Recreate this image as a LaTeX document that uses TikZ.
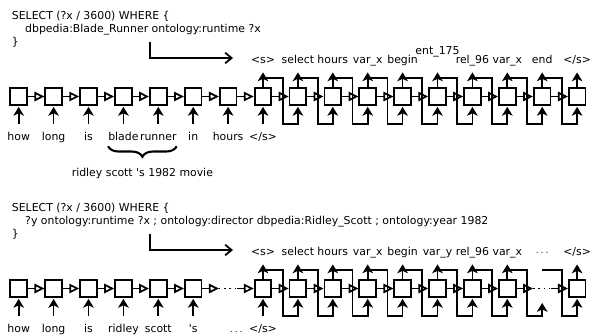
\documentclass[tikz,border=0pt]{standalone}
\usepackage{fontspec}
\setmainfont{DejaVu Sans}
\usetikzlibrary{arrows.meta,positioning,decorations.pathreplacing}

\tikzstyle{cell} = [
  rectangle, draw, line width=1.5pt, minimum size=0.5cm, inner sep=0pt
]
\tikzstyle{link} = [
  line width=1.5pt, -{Triangle[open, length=8.5pt, width=8pt]}
]
\tikzstyle{feed} = [
  line width=1.5pt, shorten >=1pt, -{Stealth[length=7.5pt, width=9pt, inset=2pt]}
]
\tikzstyle{dots} = [line width=1.3pt, dash pattern=on 1.3pt off 3.2pt]
\tikzstyle{pointer} = [line width=1.5pt, -{Straight Barb[length=5.5pt, width=9pt]}]
\tikzstyle{word} = [
  inner xsep=0pt, inner ysep=7pt, text height=7pt, text depth=2pt
]
\tikzstyle{token} = [
  inner xsep=0pt, inner ysep=4pt, text height=7pt, text depth=2pt
]
\tikzstyle{query} = [anchor=base west, inner sep=0pt]

\begin{document}
\begin{tikzpicture}[x=0.03cm, y=-0.03cm, font=\fontsize{9.3}{11}\selectfont]
  \useasboundingbox (0,0) rectangle (590,335);

  % first question
  \node[query] (qa1) at (11.7,19.5) {SELECT (?x / 3600) WHERE \{};
  \node[query] (qa2) at (25,32.7) {dbpedia:Blade\_Runner ontology:runtime ?x};
  \node[query] (qa3) at (11.7,45.9) {\}};
  \coordinate (qa) at (150,42);
  \coordinate (qa') at (233,58);
  \draw[pointer] (qa) |- (qa');

  \foreach \i in {0,...,16}
    \node[cell] (t\i) at ({18.7+34.9*\i},96.5) {};
  \foreach \i [count=\j] in {0,...,15}
    \draw[link] (t\i) -- (t\j);

  \foreach \w [count=\i from 0] in {how,long,is,blade,runner,in,hours,</s>}
    \node[word, below=15.4pt of t\i] (w\i) {\w};
  \foreach \i in {0,...,7}
    \draw[feed] (w\i) -- (t\i);

  \foreach \w [count=\i from 7] in {<s>,select,hours,var\_x,begin,{\raisebox{7.7pt}{ent\_175}},rel\_96,var\_x,end,</s>}
    \node[token, above=13.7pt of t\i] (o\i) {\w};
  \foreach \i in {7,...,16}
    \draw[feed] (t\i) -- (o\i);
  \foreach \i [count=\j from 8] in {7,...,15}
    \draw[feed] ([yshift=7.7pt]t\i.north) -| ([xshift=9pt, yshift=-15.4pt]t\i.south east) -| (t\j.south);

  \draw[decorate, decoration={brace, mirror, amplitude=9pt}, line width=1.8pt]
    ([yshift=-5pt]w3.base west) -- ([yshift=-5pt]w4.base east)
    node[midway, anchor=base, yshift=-25.6pt] (movie) {ridley scott \textquotesingle s 1982 movie};

  % second question
  \node[query] (qb1) at (11.7,211.5) {SELECT (?x / 3600) WHERE \{};
  \node[query] (qb2) at (25,224.7) {?y ontology:runtime ?x ; ontology:director dbpedia:Ridley\_Scott ; ontology:year 1982};
  \node[query] (qb3) at (11.7,237.9) {\}};
  \coordinate (qb) at (150,234);
  \coordinate (qb') at (233,250);
  \draw[pointer] (qb) |- (qb');

  \foreach \i in {0,...,5,7,8,...,14,16}
    \node[cell] (b\i) at ({18.7+34.9*\i},288.5) {};
  \node[cell, draw=none] (b6) at (228.1,288.5) {};
  \node[cell, draw=none] (b15) at (542.2,288.5) {};
  \foreach \i [evaluate=\i as \j using int(\i+1)] in {0,...,4,7,8,...,13}
    \draw[link] (b\i) -- (b\j);
  \draw[link] (b5) -- (b6.west);
  \draw[dots] (b6.west) -- (b6.east);
  \draw[link] (b6.east) -- (b7);
  \draw[link] (b14) -- (b15.west);
  \draw[dots] (b15.west) -- (b15.east);
  \draw[link] (b15.east) -- (b16);

  \foreach \w [count=\i from 0] in {how,long,is,ridley,scott,\textquotesingle s}
    \node[word, below=15.4pt of b\i] (v\i) {\w};
  \node[word, below=15.4pt of b6, xshift=7pt] (v6) {$\ldots$};
  \node[word, below=15.4pt of b7] (v7) {</s>};
  \foreach \i in {0,...,5,7}
    \draw[feed] (v\i) -- (b\i);

  \foreach \w [count=\i from 7] in {<s>,select,hours,var\_x,begin,var\_y,rel\_96,var\_x,$\cdots$,</s>}
    \node[token, above=13.7pt of b\i] (p\i) {\w};
  \foreach \i in {7,...,14,16}
    \draw[feed] (b\i) -- (p\i);
  \foreach \i [count=\j from 8] in {7,...,13}
    \draw[feed] ([yshift=7.7pt]b\i.north) -| ([xshift=9pt, yshift=-15.4pt]b\i.south east) -| (b\j.south);
  \draw[feed] ([yshift=7.7pt]b14.north) -| ([xshift=9pt, yshift=-15.4pt]b14.south east) -| ([yshift=-3.5pt]b15.south);
  \draw[feed] ([yshift=7.7pt]b15.north) -| ([xshift=9pt, yshift=-15.4pt]b15.south east) -| (b16.south);
\end{tikzpicture}
\end{document}
